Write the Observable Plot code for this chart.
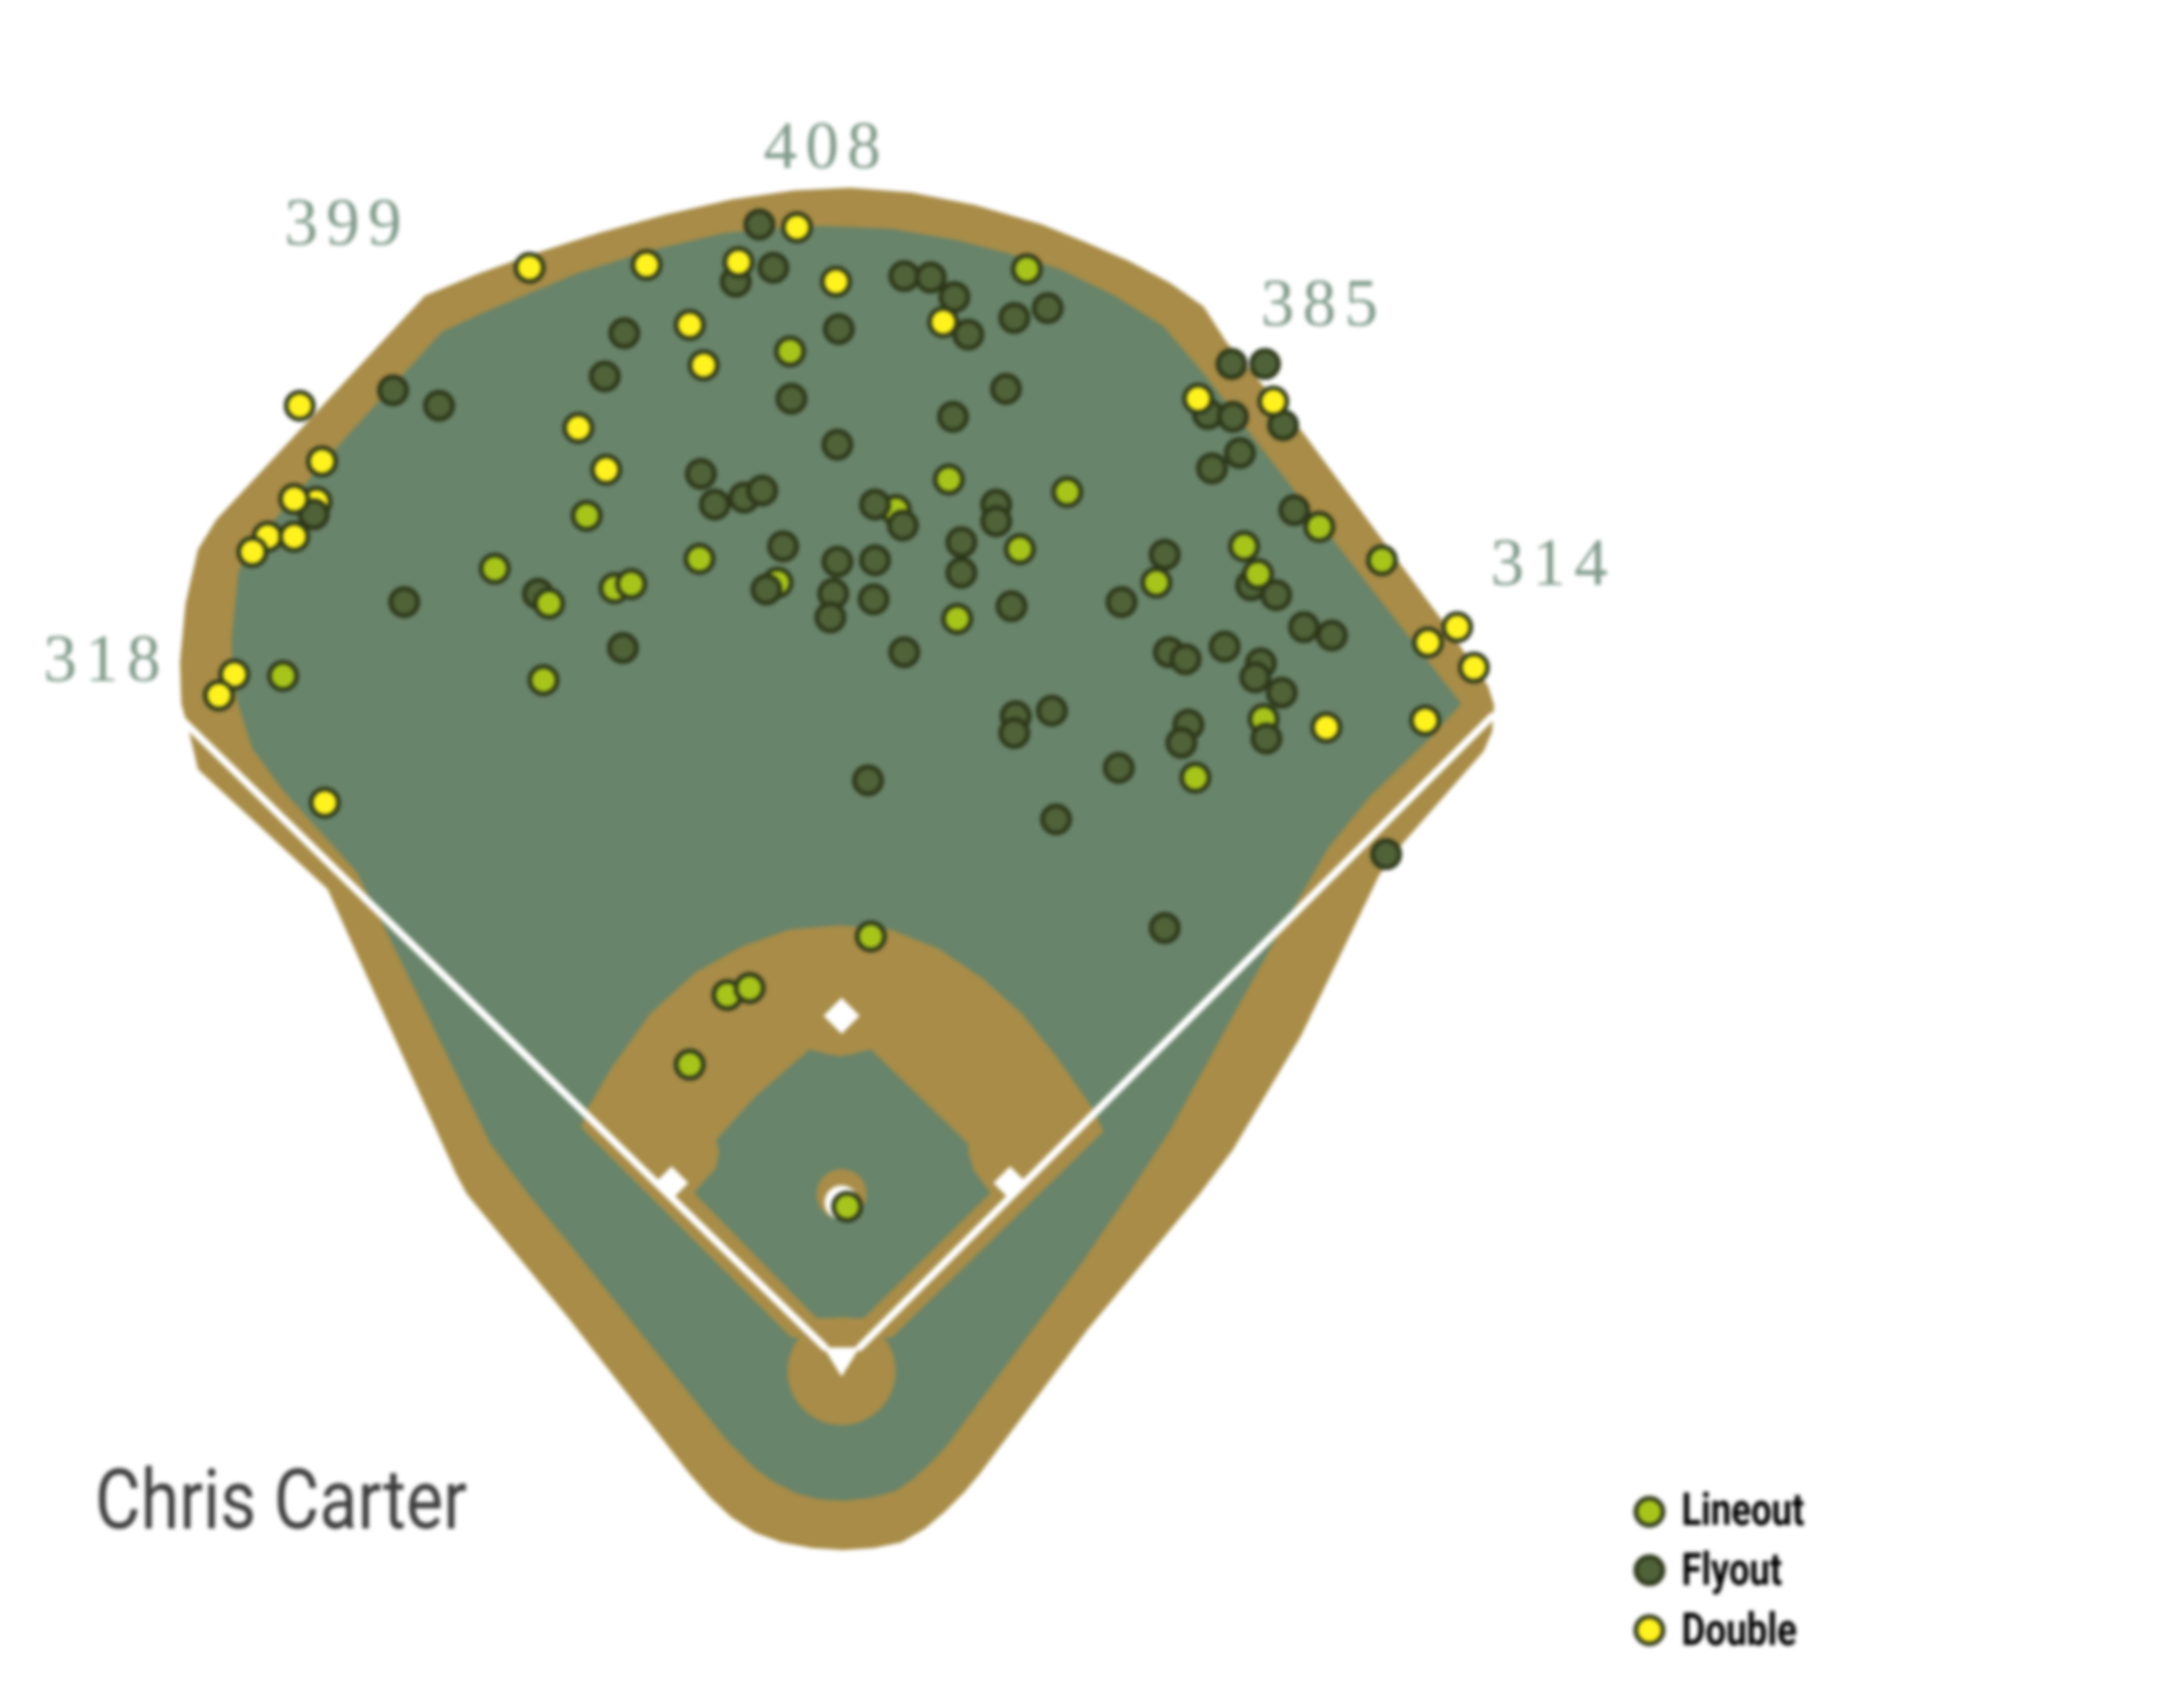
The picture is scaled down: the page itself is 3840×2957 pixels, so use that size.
<!DOCTYPE html>
<html>
<head>
<meta charset="utf-8">
<script src="https://cdn.jsdelivr.net/npm/d3@7"></script>
<script src="https://cdn.jsdelivr.net/npm/@observablehq/plot@0.6"></script>
<style>
html,body{margin:0;padding:0;background:#fff}
svg{display:block;filter:blur(3.5px)}
</style>
</head>
<body>
<div id="chart"></div>
<script>
const fieldWidth = 1568, fieldHeight = 1207.4;

const outerDirt = [[130,505],[129,475],[133,433],[142,394],[155,373],[305,212],[344,196],[383,182],[430,167],[477,154],[525,143],[570,136.5],[610,134.5],[654,138],[700,147],[748,161],[780,174],[810,187],[840,203],[864,220],[880,245],[935,310],[1035,445],[1068,492],[1072.5,506],[1071,525],[1065,539],[1007,605],[990,628],[934,743],[885,825],[861,857],[780,955],[703,1058],[692,1071],[678,1085],[664,1097],[647,1107],[627,1111],[605,1112.5],[583,1111],[561,1107],[542,1100],[525,1089],[510,1075],[495,1058],[408,946],[335,857],[327,842],[235,638],[142,552],[135,523]];
const grass = [[167,480],[166,459],[171,410],[182,390],[246,316],[317,238],[345,225],[414,196],[465,180],[520,167],[556,164],[592,162],[640,164],[686,172],[725,182],[761,193],[800,212],[835,234],[864,268],[923,344],[1049,505],[1026,530],[983,572],[953,609],[930,649],[911,682],[885,729],[840,811],[810,857],[776,907],[680,1037],[668,1050],[656,1061],[643,1070],[625,1075],[605,1077],[588,1076],[572,1072],[556,1064],[542,1054],[521,1033],[408,892],[379,857],[352,821],[277,668],[256,626],[202,566],[181,537],[171,506]];
const infieldDirt = [[417,809],[422,795],[439,766],[467,727],[499,698],[533,679],[567,667],[603,664],[639,667],[674,681],[705,702],[733,727],[758,758],[784,795],[792,812],[640,960],[568,960]];
const infieldGrass = [[514,818],[542,787],[581,753],[592,756],[603,758],[614,756],[625,753],[695,821],[695,827],[699,840],[711,856],[620,946],[586,946],[498,856],[514,838],[516,827]];
const secondBase = [[604,716],[617,729],[604,742],[591,729]];
const firstBase = [[725,837],[737,849],[725,861],[713,849]];
const thirdBase = [[482,837],[494,849],[482,861],[470,849]];
const homePlate = [[591,967],[617,967],[604,988]];
const leftFoul = [[131,517],[592,967]];
const rightFoul = [[1071,514],[617,967]];
const homeCircle = [[604,984]];
const mound = [[604,857]];
const rubber = [[604,863]];

const doublesUnder = [[227,360]];
const lineoutsUnder = [[643,366],[558,418],[907,516]];
const flyouts = [[545,161],[555,192],[528,202],[649,198],[668,199],[685,213],[695,240],[728,228],[752,221],[602,236],[448,239],[434,270],[568,286],[684,299],[722,279],[282,280],[315,291],[601,319],[503,340],[513,362],[534,357],[547,352],[628,362],[648,377],[715,362],[715,374],[690,389],[690,411],[562,392],[601,403],[628,402],[598,426],[627,430],[596,443],[550,423],[290,432],[386,426],[447,465],[649,468],[726,435],[805,432],[836,398],[225,369],[884,261],[908,261],[867,297],[885,299],[921,305],[890,325],[870,336],[929,366],[898,420],[916,427],[936,450],[956,456],[879,464],[839,468],[851,473],[905,476],[901,486],[920,497],[755,510],[729,514],[728,526],[853,520],[848,533],[909,530],[803,551],[623,560],[758,588],[995,613],[836,666]];
const lineouts = [[737,193],[567,252],[681,344],[766,353],[421,370],[355,408],[394,433],[441,422],[453,419],[502,401],[390,488],[203,485],[732,394],[947,378],[992,402],[893,392],[903,412],[830,418],[687,444],[625,672],[522,714],[538,709],[495,764],[608,866],[858,558]];
const doubles = [[572,163],[530,188],[464,190],[380,192],[600,202],[495,233],[505,262],[677,231],[215,291],[231,331],[211,358],[192,385],[211,385],[181,396],[415,307],[435,337],[860,286],[914,288],[1046,450],[1025,461],[1058,479],[1023,517],[952,522],[168,484],[157,499],[233,576]];

const distanceLabels = ["318","399","408","385","314"];
const distanceX = [73,246,590,947,1112];
const distanceY = [473,160,105,218,404];
const playerName = "Chris Carter";
const legendLabels = ["Lineout","Flyout","Double"];
const legendDotX = 1184, legendTextX = 1207;
const legendDotY = [1085,1127,1170];
const legendTextY = [1084,1127,1170];
const legendTextPx = [216,177,203];

const lineoutFill = "#a6c41a", flyoutFill = "#4f6238", doubleFill = "#fff21e", dotStroke = "#2c3618";
const dirtColor = "#a88c47", grassColor = "#68846a";

const px = d => d[0], py = d => d[1];
const shape = (pts, fill) => Plot.line(pts, {x:px, y:py, fill, stroke:"none", curve:"linear-closed"});
const hits = (pts, fill) => Plot.dot(pts, {x:px, y:py, r:24, fill, stroke:dotStroke, strokeWidth:8});
const white = "#ffffff";

const chart = Plot.plot({
  width:3840, height:2957,
  margin:0, marginTop:0, marginRight:0, marginBottom:0, marginLeft:0,
  style:{background:"#fff"},
  x:{domain:[0,fieldWidth], axis:null},
  y:{domain:[0,fieldHeight], reverse:true, axis:null},
  marks:[
    shape(outerDirt, dirtColor),
    shape(grass, grassColor),
    shape(infieldDirt, dirtColor),
    shape(infieldGrass, grassColor),
    Plot.dot(homeCircle, {x:px, y:py, r:95, fill:dirtColor}),
    Plot.dot(mound, {x:px, y:py, r:44, fill:dirtColor}),
    Plot.dot(rubber, {x:px, y:py, r:30, fill:white}),
    Plot.line(leftFoul, {x:px, y:py, stroke:white, strokeWidth:13}),
    Plot.line(rightFoul, {x:px, y:py, stroke:white, strokeWidth:13}),
    shape(secondBase, white), shape(firstBase, white), shape(thirdBase, white), shape(homePlate, white),
    hits(doublesUnder, doubleFill),
    hits(lineoutsUnder, lineoutFill),
    hits(flyouts, flyoutFill),
    hits(lineouts, lineoutFill),
    hits(doubles, doubleFill),
    Plot.text(distanceLabels, {x:(d,i)=>distanceX[i], y:(d,i)=>distanceY[i], text:d=>d, fontFamily:"Liberation Serif", fontSize:118, fill:"#7f9a8a", textAnchor:"middle", className:"dist"}),
    Plot.text([playerName], {x:[68], y:[1078], text:d=>d, fontFamily:"Roboto", fontSize:146, fill:"#3d3d3d", textAnchor:"start", className:"name"}),
    Plot.dot(legendLabels, {x:()=>legendDotX, y:(d,i)=>legendDotY[i], r:24, fill:(d,i)=>[lineoutFill,flyoutFill,doubleFill][i], stroke:dotStroke, strokeWidth:8}),
    Plot.text(legendLabels, {x:()=>legendTextX, y:(d,i)=>legendTextY[i], text:d=>d, fontFamily:"Roboto", fontWeight:"bold", fontSize:80, fill:"#000", textAnchor:"start", className:"leg"})
  ]
});
d3.select(chart).selectAll(".dist text").attr("textLength",206).attr("lengthAdjust","spacing");
d3.select(chart).selectAll(".name text").attr("textLength",654).attr("lengthAdjust","spacingAndGlyphs");
d3.select(chart).selectAll(".leg text").attr("textLength",(d,i)=>legendTextPx[i]).attr("lengthAdjust","spacingAndGlyphs");
document.getElementById("chart").appendChild(chart);
</script>
</body>
</html>
